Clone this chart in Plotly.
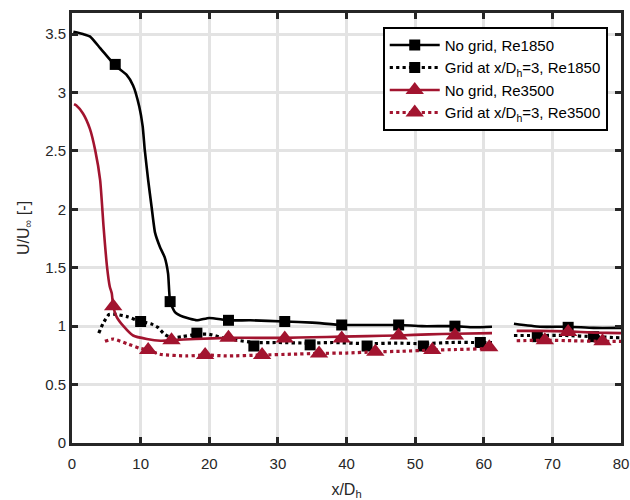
import plotly.graph_objects as go

# ---- data ----
# No grid, Re1850 (solid black)
ng1850_x = [0.2, 1.6, 2.6, 4.1, 6.3, 7.96, 8.9, 9.8, 10.3, 10.6, 11.1, 11.6, 12.1, 12.8, 13.5, 14.0, 14.3,
            15.0, 16.2, 18.2, 20.0, 22.8, 26.0, 31.0, 35.0, 39.3, 43.0, 47.6, 51.0, 55.8, 58.5, 61.2,
            62.8, 64.4, 68.2, 72.3, 76.0, 80.0]
ng1850_y = [3.52, 3.50, 3.48, 3.38, 3.23, 3.15, 3.06, 2.88, 2.71, 2.51, 2.25, 2.02, 1.80, 1.68, 1.59, 1.45, 1.21,
            1.12, 1.08, 1.05, 1.07, 1.05, 1.05, 1.04, 1.03, 1.01, 1.01, 1.01, 1.00, 1.00, 0.99, 0.995,
            None, 1.02, 0.995, 0.995, 0.985, 0.985]
ng1850_mx = [6.3, 14.3, 22.8, 31.0, 39.3, 47.6, 55.8, 72.3]
ng1850_my = [3.24, 1.21, 1.05, 1.04, 1.01, 1.01, 1.00, 0.99]

# Grid at x/Dh=3, Re1850 (dotted black)
g1850_x = [3.9, 4.5, 5.4, 6.5, 8.1, 10.0, 11.5, 12.5, 13.5, 14.5, 16.0, 18.2, 20.0, 22.0, 24.0, 26.5,
           30.0, 34.7, 38.0, 43.0, 47.0, 51.2, 55.0, 59.5, 61.2, 62.8, 64.4, 67.8, 72.0, 76.0, 80.0]
g1850_y = [0.94, 1.02, 1.10, 1.10, 1.08, 1.04, 1.02, 0.99, 0.93, 0.90, 0.91, 0.93, 0.93, 0.90, 0.88, 0.86,
           0.86, 0.855, 0.86, 0.85, 0.855, 0.85, 0.86, 0.86, 0.86, None, 0.92, 0.92, 0.92, 0.91, 0.90]
g1850_mx = [10.0, 18.2, 26.5, 34.7, 43.0, 51.2, 59.5, 67.8, 76.0]
g1850_my = [1.04, 0.94, 0.83, 0.84, 0.83, 0.83, 0.86, 0.91, 0.91]

# No grid, Re3500 (solid red)
ng3500_x = [0.3, 0.6, 1.6, 2.6, 3.4, 4.1, 4.6, 5.1, 5.5, 5.8, 6.0, 6.5, 7.5, 8.9, 10.9, 12.9, 14.5, 18.0,
            22.8, 27.0, 31.0, 35.0, 39.3, 43.0, 47.6, 52.0, 55.8, 61.2, 62.8, 64.8, 68.0, 72.3, 76.0, 80.0]
ng3500_y = [2.90, 2.89, 2.82, 2.69, 2.50, 2.25, 1.85, 1.51, 1.34, 1.28, 1.17, 1.08, 1.00, 0.92, 0.89, 0.875,
            0.88, 0.89, 0.90, 0.90, 0.90, 0.905, 0.91, 0.915, 0.92, 0.93, 0.935, 0.94, None, 0.96, 0.96,
            0.955, 0.945, 0.94]
ng3500_mx = [6.0, 14.5, 22.8, 31.0, 39.3, 47.6, 55.8, 72.3]
ng3500_my = [1.17, 0.88, 0.90, 0.895, 0.895, 0.92, 0.92, 0.95]

# Grid at x/Dh=3, Re3500 (dotted red)
g3500_x = [4.8, 6.0, 8.0, 9.9, 11.1, 12.8, 16.7, 19.4, 22.5, 27.7, 32.0, 36.0, 40.0, 44.2, 48.0, 52.5,
           56.0, 60.8, 61.5, 63.0, 64.8, 68.9, 73.0, 77.3, 80.0]
g3500_y = [0.87, 0.89, 0.85, 0.81, 0.795, 0.76, 0.745, 0.753, 0.745, 0.753, 0.76, 0.767, 0.77, 0.78, 0.785,
           0.795, 0.80, 0.81, 0.82, None, 0.875, 0.88, 0.875, 0.87, 0.87]
g3500_mx = [11.1, 19.4, 27.7, 36.0, 44.2, 52.5, 60.8, 68.9, 77.3]
g3500_my = [0.795, 0.753, 0.753, 0.767, 0.78, 0.795, 0.82, 0.88, 0.87]

names = ["No grid, Re1850", "Grid at x/D<sub>h</sub>=3, Re1850",
         "No grid, Re3500", "Grid at x/D<sub>h</sub>=3, Re3500"]

x_ticks = [0, 10, 20, 30, 40, 50, 60, 70, 80]
y_ticks = [0, 0.5, 1, 1.5, 2, 2.5, 3, 3.5]
y_tick_text = ["0", "0.5", "1", "1.5", "2", "2.5", "3", "3.5"]

BLACK = "#000000"
RED = "#A2142F"
FONT = "Liberation Sans, Arial, sans-serif"

series = [
    (ng1850_x, ng1850_y, ng1850_mx, ng1850_my, BLACK, "solid", "square", 11, 2.6),
    (g1850_x, g1850_y, g1850_mx, g1850_my, BLACK, "dot", "square", 11, 3.2),
    (ng3500_x, ng3500_y, ng3500_mx, ng3500_my, RED, "solid", "triangle-up", 16, 2.6),
    (g3500_x, g3500_y, g3500_mx, g3500_my, RED, "dot", "triangle-up", 16, 3.2),
]

fig = go.Figure()
for i, (lx, ly, mx, my, col, dash, sym, ms, lw) in enumerate(series):
    fig.add_trace(go.Scatter(x=lx, y=ly, mode="lines", connectgaps=False,
                             line=dict(color=col, width=lw, dash=dash, shape="spline", smoothing=0.5),
                             showlegend=False, hoverinfo="skip"))
    fig.add_trace(go.Scatter(x=mx, y=my, mode="markers",
                             marker=dict(color=col, symbol=sym, size=ms, line=dict(width=0)),
                             showlegend=False))
    # legend entry
    fig.add_trace(go.Scatter(x=[None], y=[None], mode="lines+markers", name=names[i],
                             line=dict(color=col, width=lw, dash=dash),
                             marker=dict(color=col, symbol=sym, size=ms, line=dict(width=0))))

axis_common = dict(showline=True, linewidth=3, linecolor="#262626", mirror="allticks",
                   ticks="inside", ticklen=6, tickwidth=3, tickcolor="#262626",
                   showgrid=True, gridcolor="#E3E3E3", gridwidth=3, zeroline=False,
                   automargin=False,
                   tickfont=dict(family=FONT, size=15, color="#262626"))

fig.update_xaxes(range=[0, 80], tickvals=x_ticks, ticklabelstandoff=5, **axis_common,
                 title=dict(text="x/D<sub>h</sub>", standoff=14,
                            font=dict(family=FONT, size=16, color="#262626")))
fig.update_yaxes(range=[0, 3.68], tickvals=y_ticks, ticktext=y_tick_text, **axis_common,
                 title=dict(text="U/U<sub>∞</sub> [-]", standoff=12,
                            font=dict(family=FONT, size=16, color="#262626")))

fig.update_layout(
    width=630, height=500,
    margin=dict(l=72, r=9, t=13, b=57),
    plot_bgcolor="white", paper_bgcolor="white",
    font=dict(family=FONT, size=15, color="#000000"),
    legend=dict(x=0.566, y=0.968, xanchor="left", yanchor="top",
                bgcolor="white", bordercolor="#000000", borderwidth=2,
                itemwidth=50,
                font=dict(size=15, color="#000000"), tracegroupgap=0),
)

fig.write_html("out.html")
